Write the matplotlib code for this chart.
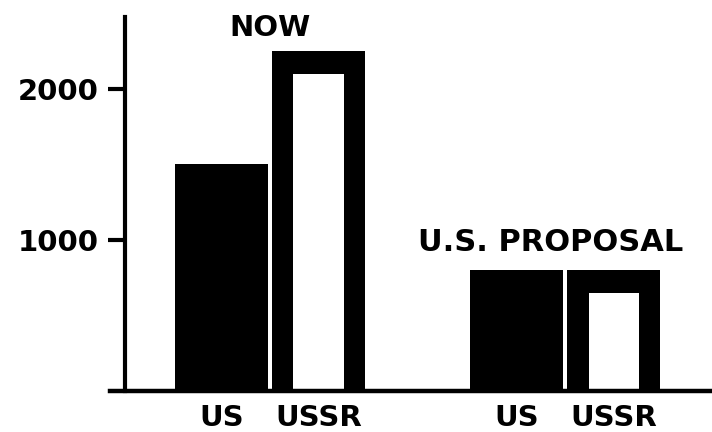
import matplotlib.pyplot as plt
import numpy as np

# warheads / launchers
groups = ['NOW', 'U.S. PROPOSAL']
us_vals = [1500, 800]
ussr_vals = [2250, 800]
ussr_inner = [2100, 650]      # white window inside the USSR bars
bar_names = ['US', 'USSR']
yticks = [1000, 2000]

plt.rcParams['font.family'] = ['DejaVu Sans']
plt.rcParams['font.weight'] = 'bold'

fig = plt.figure(figsize=(7.12, 4.32), dpi=100)
# axes: left edge at the baseline start, baseline near the bottom
ax = fig.add_axes([110 / 712, 41 / 432, 602 / 712, 374 / 432])

x = np.arange(len(groups))
w = 0.315
off = 0.165
border = 0.072

ax.bar(x - off, us_vals, width=w, color='black', zorder=2)
ax.bar(x + off, ussr_vals, width=w, color='black', zorder=2)
ax.bar(x + off, ussr_inner, width=w - 2 * border, color='white', zorder=3)

ax.set_xlim(-0.542, 1.498)
ax.set_ylim(0, 2475)

for sp in ['top', 'right']:
    ax.spines[sp].set_visible(False)
ax.spines['left'].set_position(('data', -0.49))
ax.spines['left'].set_linewidth(3)
ax.spines['bottom'].set_linewidth(3.2)
ax.spines['bottom'].set_zorder(4)

ax.set_yticks(yticks)
ax.set_yticklabels([str(v) for v in yticks], fontsize=21, fontweight='bold')
ax.tick_params(axis='y', length=12, width=3, pad=7)

xt = np.concatenate([x - off, x + off])
xl = [bar_names[0]] * len(x) + [bar_names[1]] * len(x)
ax.set_xticks(xt)
ax.set_xticklabels(xl, fontsize=21, fontweight='bold', va='top')
ax.tick_params(axis='x', length=0, pad=9)

ax.text(x[0] + 0.0, 2405, groups[0], ha='center', va='center', fontsize=21, fontweight='bold')
ax.text(x[1] - 0.05, 985, groups[1], ha='center', va='center', fontsize=22, fontweight='bold')

fig.savefig('out.png', dpi=100)
